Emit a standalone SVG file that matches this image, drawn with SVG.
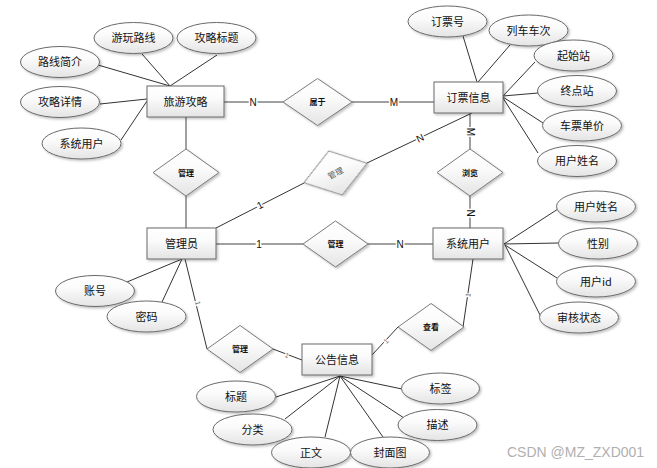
<svg xmlns="http://www.w3.org/2000/svg" width="657" height="468" viewBox="0 0 657 468">
<defs>
<linearGradient id="g" x1="0" y1="0" x2="0" y2="1">
<stop offset="0" stop-color="#ffffff"/>
<stop offset="0.4" stop-color="#fbfbfb"/>
<stop offset="1" stop-color="#e4e4e4"/>
</linearGradient>
<filter id="sh" x="-20%" y="-20%" width="140%" height="150%">
<feDropShadow dx="1.5" dy="1.5" stdDeviation="1" flood-color="#000" flood-opacity="0.25"/>
</filter>
<style>
.ent rect{fill:url(#g);stroke:#6a6a6a;stroke-width:1;filter:url(#sh)}
.att ellipse{fill:url(#g);stroke:#6a6a6a;stroke-width:1;filter:url(#sh)}
.rel polygon{fill:url(#g);stroke:#7a7a7a;stroke-width:1;filter:url(#sh)}
text{font-family:"Noto Sans CJK SC","Liberation Sans",sans-serif;fill:#111;text-anchor:middle}
.t{font-size:11px}
.r{font-size:8px;font-weight:bold}
.lab{font-family:"Liberation Sans",sans-serif;font-size:10px;stroke:#fff;stroke-width:3;paint-order:stroke}
.tk{font-family:"Liberation Sans",sans-serif;font-size:7px;fill:#666;stroke:#fff;stroke-width:2;paint-order:stroke}
.a line{stroke:#333;stroke-width:1}
.c line{stroke:#808080;stroke-width:1.5}
.c2 line{stroke:#333;stroke-width:1}
</style>
</defs>
<rect width="657" height="468" fill="#fff"/>
<g id="connectors">
<g class="a">
<line x1="142" y1="54" x2="170" y2="86"/>
<line x1="217" y1="55" x2="170" y2="86"/>
<line x1="98" y1="65" x2="170" y2="86"/>
<line x1="100" y1="104" x2="147" y2="99"/>
<line x1="121" y1="140" x2="147" y2="101"/>
<line x1="463" y1="36" x2="477" y2="82"/>
<line x1="510" y1="45" x2="478" y2="82"/>
<line x1="535" y1="62" x2="503" y2="96"/>
<line x1="538" y1="93" x2="503" y2="96"/>
<line x1="543" y1="123" x2="503" y2="97"/>
<line x1="538" y1="153" x2="503" y2="98"/>
<line x1="504" y1="244" x2="558" y2="209"/>
<line x1="504" y1="244" x2="559" y2="243"/>
<line x1="505" y1="245" x2="557" y2="278"/>
<line x1="505" y1="245" x2="541" y2="317"/>
<line x1="127" y1="282" x2="182" y2="259"/>
<line x1="162" y1="302" x2="182" y2="259"/>
<line x1="340" y1="376" x2="276" y2="397"/>
<line x1="340" y1="376" x2="285" y2="419"/>
<line x1="340" y1="376" x2="325" y2="437"/>
<line x1="340" y1="376" x2="383" y2="437"/>
<line x1="340" y1="376" x2="402" y2="389"/>
<line x1="340" y1="376" x2="404" y2="418"/>
</g>
<g class="c">
<line x1="224" y1="102" x2="283" y2="102"/>
<line x1="352" y1="102" x2="434" y2="102"/>
<line x1="186" y1="117" x2="186" y2="149"/>
<line x1="186" y1="196" x2="186" y2="228"/>
<line x1="470" y1="113" x2="470" y2="149"/>
<line x1="470" y1="196" x2="470" y2="228"/>
<line x1="216" y1="244" x2="303" y2="244"/>
<line x1="368" y1="244" x2="433" y2="244"/>
</g>
<g class="c2">
<line x1="216" y1="228" x2="304" y2="183"/>
<line x1="367" y1="163" x2="472" y2="113"/>
<line x1="185" y1="259" x2="207" y2="349"/>
<line x1="273" y1="349" x2="302" y2="360"/>
<line x1="473" y1="259" x2="463" y2="327"/>
<line x1="398" y1="327" x2="372" y2="355"/>
</g>
<text class="lab" x="253" y="106">N</text>
<text class="lab" x="394" y="106">M</text>
<text class="lab" transform="translate(260,205) rotate(-27)" y="3.5">1</text>
<text class="lab" transform="translate(420,138) rotate(-25)" y="3.5">N</text>
<text class="lab" transform="translate(470,132) rotate(90)" y="3.5">M</text>
<text class="lab" transform="translate(470,213) rotate(90)" y="3.5">N</text>
<text class="lab" x="259" y="248">1</text>
<text class="lab" x="400" y="248">N</text>
<text class="tk" transform="translate(198,303) rotate(76)" y="2.5">1</text>
<text class="tk" transform="translate(287,355) rotate(21)" y="2.5">1</text>
<text class="tk" transform="translate(468,295) rotate(-82)" y="2.5">1</text>
<text class="tk" transform="translate(386,341) rotate(-47)" y="2.5">1</text>
</g>
<g id="e-lvyougonglue" class="ent"><rect x="147" y="86" width="77" height="31"/><text class="t" x="185.5" y="105.5">旅游攻略</text></g>
<g id="e-dingpiao" class="ent"><rect x="434" y="82" width="69" height="31"/><text class="t" x="468.5" y="101.5">订票信息</text></g>
<g id="e-guanliyuan" class="ent"><rect x="147" y="228" width="69" height="31"/><text class="t" x="181.5" y="247.5">管理员</text></g>
<g id="e-xitongyonghu" class="ent"><rect x="433" y="228" width="70" height="31"/><text class="t" x="468" y="247.5">系统用户</text></g>
<g id="e-gonggao" class="ent"><rect x="302" y="344" width="70" height="31"/><text class="t" x="337" y="363.5">公告信息</text></g>
<g id="r-shuyu" class="rel"><polygon points="283,102 317.5,78.5 352,102 317.5,125.5"/><text class="r" x="317.5" y="105">属于</text></g>
<g id="r-guanli1" class="rel"><polygon points="153,172.5 186,149 219,172.5 186,196"/><text class="r" x="186" y="175.5">管理</text></g>
<g id="r-guanli2" class="rel"><polygon transform="translate(335.5,173) rotate(-17)" points="-33,0 0,-23 33,0 0,23"/><text class="r" style="font-weight:normal;fill:#555" transform="translate(335.5,173) rotate(-28)" y="3">管理</text></g>
<g id="r-liulan" class="rel"><polygon points="437,172.5 470,149 503,172.5 470,196"/><text class="r" x="470" y="175.5">浏览</text></g>
<g id="r-guanli3" class="rel"><polygon points="303,244 335.5,221 368,244 335.5,267"/><text class="r" x="335.5" y="247">管理</text></g>
<g id="r-guanli4" class="rel"><polygon points="207,349 240,325.5 273,349 240,372.5"/><text class="r" x="240" y="352">管理</text></g>
<g id="r-chakan" class="rel"><polygon points="398,327 431,303.5 464,327 431,350.5"/><text class="r" x="431" y="330">查看</text></g>
<g id="a-youwanluxian" class="att"><ellipse cx="133.5" cy="38" rx="39.5" ry="15.5"/><text class="t" x="133.5" y="42">游玩路线</text></g>
<g id="a-gonglvebiaoti" class="att"><ellipse cx="216.5" cy="38" rx="39.5" ry="15.5"/><text class="t" x="216.5" y="42">攻略标题</text></g>
<g id="a-luxianjianjie" class="att"><ellipse cx="60" cy="62" rx="39.5" ry="15.5"/><text class="t" x="60" y="66">路线简介</text></g>
<g id="a-gonglvexiangqing" class="att"><ellipse cx="60" cy="102" rx="39.5" ry="15.5"/><text class="t" x="60" y="106">攻略详情</text></g>
<g id="a-xitongyonghu" class="att"><ellipse cx="81.5" cy="143.5" rx="39.5" ry="15.5"/><text class="t" x="81.5" y="147.5">系统用户</text></g>
<g id="a-dingpiaohao" class="att"><ellipse cx="447.5" cy="21.5" rx="39.5" ry="15.5"/><text class="t" x="447.5" y="25.5">订票号</text></g>
<g id="a-liecheche" class="att"><ellipse cx="528.5" cy="30.5" rx="39.5" ry="15.5"/><text class="t" x="528.5" y="34.5">列车车次</text></g>
<g id="a-qishizhan" class="att"><ellipse cx="573.5" cy="55.5" rx="39.5" ry="15.5"/><text class="t" x="573.5" y="59.5">起始站</text></g>
<g id="a-zhongdianzhan" class="att"><ellipse cx="577" cy="91" rx="39.5" ry="15.5"/><text class="t" x="577" y="95">终点站</text></g>
<g id="a-chepiaodanjia" class="att"><ellipse cx="582" cy="125.5" rx="39.5" ry="15.5"/><text class="t" x="582" y="129.5">车票单价</text></g>
<g id="a-yonghuxingming1" class="att"><ellipse cx="577" cy="161" rx="39.5" ry="15.5"/><text class="t" x="577" y="165">用户姓名</text></g>
<g id="a-yonghuxingming2" class="att"><ellipse cx="596" cy="206.5" rx="39.5" ry="15.5"/><text class="t" x="596" y="210.5">用户姓名</text></g>
<g id="a-xingbie" class="att"><ellipse cx="598" cy="243.5" rx="39.5" ry="15.5"/><text class="t" x="598" y="247.5">性别</text></g>
<g id="a-yonghuid" class="att"><ellipse cx="596" cy="281.5" rx="39.5" ry="15.5"/><text class="t" x="596" y="285.5">用户id</text></g>
<g id="a-shenhezhuangtai" class="att"><ellipse cx="579" cy="317.5" rx="39.5" ry="15.5"/><text class="t" x="579" y="321.5">审核状态</text></g>
<g id="a-zhanghao" class="att"><ellipse cx="95" cy="291" rx="39.5" ry="15.5"/><text class="t" x="95" y="295">账号</text></g>
<g id="a-mima" class="att"><ellipse cx="146.5" cy="316.5" rx="39.5" ry="15.5"/><text class="t" x="146.5" y="320.5">密码</text></g>
<g id="a-biaoti" class="att"><ellipse cx="236" cy="396.5" rx="39.5" ry="15.5"/><text class="t" x="236" y="400.5">标题</text></g>
<g id="a-fenlei" class="att"><ellipse cx="252.5" cy="429.5" rx="39.5" ry="15.5"/><text class="t" x="252.5" y="433.5">分类</text></g>
<g id="a-zhengwen" class="att"><ellipse cx="311" cy="452.5" rx="39.5" ry="15.5"/><text class="t" x="311" y="456.5">正文</text></g>
<g id="a-fengmiantu" class="att"><ellipse cx="390" cy="452.5" rx="39.5" ry="15.5"/><text class="t" x="390" y="456.5">封面图</text></g>
<g id="a-biaoqian" class="att"><ellipse cx="440.5" cy="388.5" rx="39" ry="15.5"/><text class="t" x="440.5" y="392.5">标签</text></g>
<g id="a-miaoshu" class="att"><ellipse cx="437.5" cy="425" rx="39.5" ry="15.5"/><text class="t" x="437.5" y="429">描述</text></g>
<text x="507" y="457" style="font-family:'Liberation Sans',sans-serif;font-size:14px;fill:#b0b0b0;text-anchor:start">CSDN @MZ_ZXD001</text>
</svg>
